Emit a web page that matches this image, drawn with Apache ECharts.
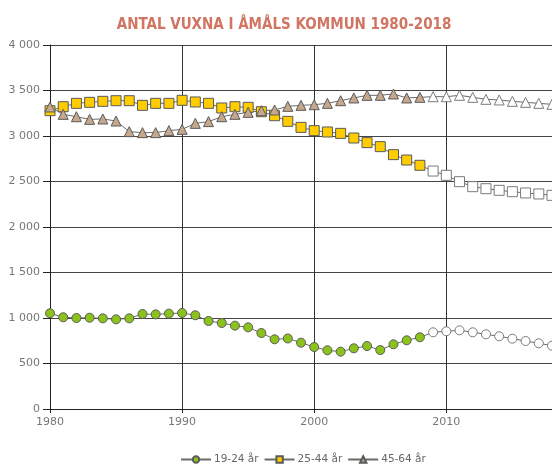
<!DOCTYPE html>
<html>
<head>
<meta charset="utf-8">
<script src="https://cdn.jsdelivr.net/npm/echarts@6/dist/echarts.min.js"></script>
<style>
  html, body { margin: 0; padding: 0; background: #fff; }
  #main { width: 552px; height: 464px; }
</style>
</head>
<body>
<div id="main"></div>
<script>
// år 1980-2018
var years = [];
for (var y = 1980; y <= 2018; y++) years.push(y);
var prognosFran = 2009; // vita markörer = prognos

var v19_24 = [1052, 1008, 1000, 1003, 996, 985, 996, 1044, 1040, 1048,
              1055, 1030, 967, 945, 916, 897, 835, 766, 775, 729,
              681, 645, 630, 667, 692, 648, 711, 755, 788, 843,
              854, 865, 843, 821, 799, 773, 747, 722, 696];
var v25_44 = [3278, 3322, 3359, 3370, 3381, 3388, 3388, 3337, 3359, 3359,
              3392, 3374, 3359, 3308, 3322, 3315, 3267, 3223, 3161, 3095,
              3059, 3044, 3029, 2978, 2927, 2883, 2795, 2736, 2678, 2615,
              2568, 2498, 2443, 2421, 2403, 2388, 2374, 2363, 2348];
var v45_64 = [3319, 3238, 3212, 3183, 3187, 3165, 3048, 3037, 3037, 3059,
              3073, 3139, 3158, 3212, 3238, 3260, 3278, 3286, 3326, 3337,
              3344, 3359, 3388, 3418, 3447, 3447, 3462, 3418, 3425, 3432,
              3432, 3447, 3425, 3403, 3396, 3381, 3370, 3359, 3348];

var myChart = echarts.init(document.getElementById('main'));

function punkter(values) {
    return years.map(function (yr, i) {
        var p = { value: [yr, values[i]] };
        if (yr >= prognosFran) {
            p.itemStyle = { color: '#ffffff', borderColor: '#7a7a7a' };
        }
        return p;
    });
}

function serie(namn, values, symbol, farg, storlek) {
    return {
        name: namn,
        type: 'line',
        data: punkter(values),
        symbol: symbol,
        symbolSize: storlek,
        showAllSymbol: true,
        clip: false,
        lineStyle: { color: '#6a6a6a', width: 1 },
        itemStyle: { color: farg, borderColor: '#5a5a5a', borderWidth: 1 }
    };
}

var option = {
    animation: false,
    color: ['#8cc21c', '#ffcc00', '#c6a88c'],
    title: {
        text: 'ANTAL VUXNA I ÅMÅLS KOMMUN 1980-2018',
        left: 279,
        textAlign: 'center',
        top: 13,
        textStyle: { color: '#d27462', fontSize: 15, fontWeight: 'bold', fontFamily: '"Liberation Sans Narrow", "DejaVu Sans Condensed", sans-serif' }
    },
    legend: {
        top: 454,
        left: 180,
        padding: 0,
        itemWidth: 30,
        itemHeight: 8,
        itemGap: 5,
        textStyle: { color: '#666', fontSize: 10.5, fontFamily: 'DejaVu Sans', padding: [0, 0, 0, -2] },
        data: ['19-24 år', '25-44 år', '45-64 år']
    },
    grid: { left: 50, right: 0, top: 45, bottom: 55, containLabel: false, outerBoundsMode: 'none' },
    xAxis: {
        type: 'value',
        min: 1980,
        max: 2018,
        interval: 10,
        axisLine: { lineStyle: { color: '#222', width: 1 } },
        axisTick: { show: true, length: 4, lineStyle: { color: '#222' } },
        axisLabel: {
            color: '#777', fontSize: 11, fontFamily: 'DejaVu Sans', margin: 8,
            showMaxLabel: false,
            formatter: function (v) { return String(v); }
        },
        splitLine: { show: true, lineStyle: { color: '#333', width: 1 } }
    },
    yAxis: {
        type: 'value',
        min: 0,
        max: 4000,
        interval: 500,
        axisLine: { show: true, lineStyle: { color: '#222', width: 1 } },
        axisTick: { show: true, length: 7, lineStyle: { color: '#222' } },
        axisLabel: {
            color: '#777', fontSize: 11, fontFamily: 'DejaVu Sans', margin: 10,
            formatter: function (v) {
                return String(v).replace(/\B(?=(\d{3})+(?!\d))/g, ' ');
            }
        },
        splitLine: { lineStyle: { color: '#444', width: 1 } }
    },
    series: [
        serie('19-24 år', v19_24, 'circle', '#8cc21c', 9),
        serie('25-44 år', v25_44, 'rect', '#ffcc00', 10),
        serie('45-64 år', v45_64, 'triangle', '#c6a88c', 10)
    ]
};

myChart.setOption(option);
</script>
</body>
</html>
